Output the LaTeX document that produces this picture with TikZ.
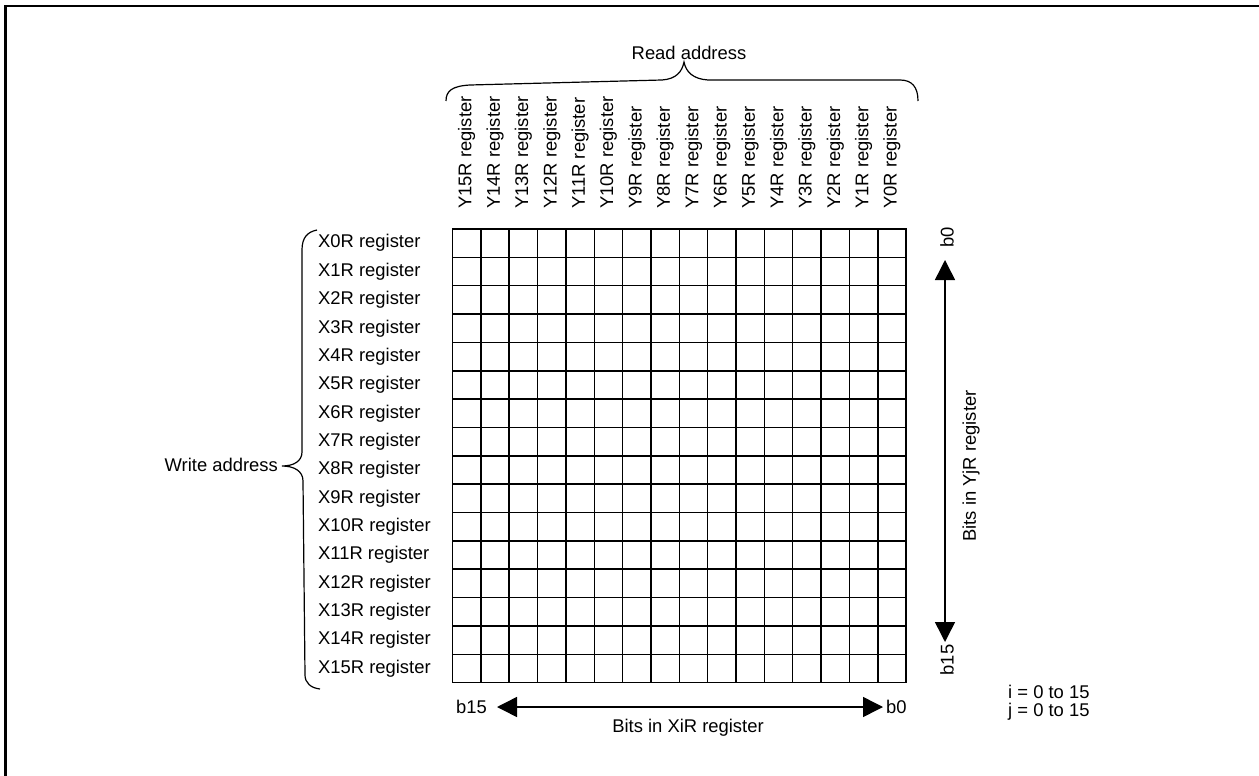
\documentclass[tikz,border=0pt]{standalone}
\usepackage{fontspec}
\setmainfont{Liberation Sans}
\usetikzlibrary{arrows.meta,calc,positioning}

\begin{document}
\begin{tikzpicture}[
    x=1pt,y=-1pt,
    font=\fontsize{18.4}{22}\selectfont,
    lbl/.style={inner sep=0pt, font=\fontsize{18.4}{22}\selectfont},
    collbl/.style={lbl, rotate=90, anchor=west},
    rowlbl/.style={lbl, anchor=west},
    frameline/.style={line width=2.6pt, draw=black},
    cellline/.style={line width=1.5pt, draw=black},
    bracket/.style={line width=1.2pt, draw=black},
    bitarrow/.style={
        {Triangle[length=20pt,width=20pt]}-{Triangle[length=20pt,width=20pt]},
        line width=1.5pt
    }
]
\useasboundingbox (0,0) rectangle (1259,776);

% -----------------------------------------------------------------------------
% Frame (open at right and bottom)
% -----------------------------------------------------------------------------
\draw[frameline] (5.3,776) -- (5.3,6) -- (1259,6);

% -----------------------------------------------------------------------------
% Register grid
% -----------------------------------------------------------------------------
\coordinate (gNW) at (452.5,229);
\coordinate (gSE) at (906.1,682.6);
\foreach \k in {0,...,16} {
    \draw[cellline] ({452.5+28.35*\k},229) -- ({452.5+28.35*\k},682.6);
    \draw[cellline] (452.5,{229+28.35*\k}) -- (906.1,{229+28.35*\k});
}
\draw[cellline] (gNW) rectangle (gSE);

% -----------------------------------------------------------------------------
% Read address: column labels and brace
% -----------------------------------------------------------------------------
\foreach \c [evaluate=\c as \j using int(15-\c)] in {0,...,15} {
    \node[collbl] (ycol\j) at ({466.7+28.35*\c},209) {Y\j R register};
}
\draw[bracket] (446,101) .. controls (446,91) and (452,86) .. (470,85)
    -- (662,80) .. controls (676,79) and (682,72) .. (684,62)
    .. controls (686,72) and (693,79) .. (708,80)
    -- (900,80) .. controls (912,80) and (918,87) .. (918,101);
\node[lbl] (readaddr) at (689,53) {Read address};

% -----------------------------------------------------------------------------
% Write address: row labels and brace
% -----------------------------------------------------------------------------
\foreach \r in {0,...,15} {
    \node[rowlbl] (xrow\r) at (318,{243.2+28.35*\r}) {X\r R register};
}
\draw[bracket] (317,230) .. controls (307,232) and (302,238) .. (302,250)
    -- (302,452) .. controls (302,461) and (294,466) .. (282,466)
    .. controls (294,466) and (303,471) .. (303,481)
    -- (305,675) .. controls (305,683) and (311,688) .. (320,689);
\node[lbl, anchor=east] (writeaddr) at (278,465) {Write address};

% -----------------------------------------------------------------------------
% Bit order arrows
% -----------------------------------------------------------------------------
\coordinate (hL) at (497,707);
\coordinate (hR) at (883,707);
\draw[bitarrow] (hL) -- (hR);
\node[lbl, left=10pt of hL] (xb15) {b15};
\node[lbl, right=3pt of hR] (xb0) {b0};
\node[lbl] (xbits) at (688,728) {Bits in XiR register};

\coordinate (vT) at (945,260);
\coordinate (vB) at (945,642);
\draw[bitarrow] (vT) -- (vB);
\node[lbl, rotate=90] (yb0) at (947,237) {b0};
\node[lbl, rotate=90] (yb15) at (947,660) {b15};
\node[lbl, rotate=90] (ybits) at (971,466) {Bits in YjR register};

% -----------------------------------------------------------------------------
% Index ranges
% -----------------------------------------------------------------------------
\node[lbl, anchor=west] (irange) at (1008,692) {i = 0 to 15};
\node[lbl, anchor=west] (jrange) at (1008,712) {j = 0 to 15};

\end{tikzpicture}
\end{document}
